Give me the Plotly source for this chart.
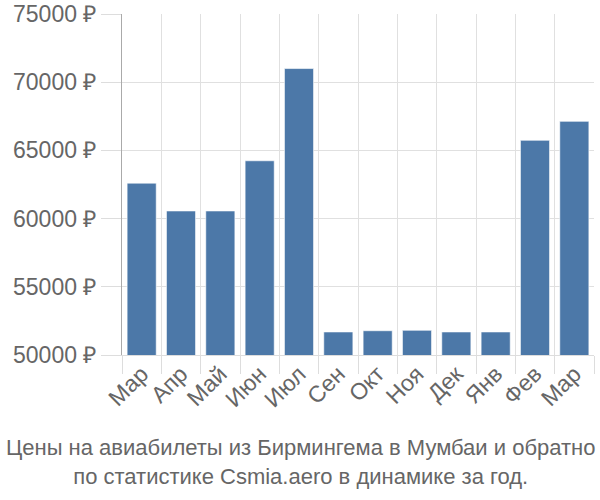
import plotly.graph_objects as go

months = ["Мар", "Апр", "Май", "Июн", "Июл", "Сен", "Окт", "Ноя", "Дек", "Янв", "Фев", "Мар"]
prices = [62600, 60560, 60560, 64240, 71000, 51690, 51780, 51810, 51690, 51690, 65740, 67130]
y_ticks = [50000, 55000, 60000, 65000, 70000, 75000]
y_labels = [f"{v} ₽" for v in y_ticks]
title_lines = ["Цены на авиабилеты из Бирмингема в Мумбаи и обратно",
               "по статистике Csmia.aero в динамике за год."]

x_idx = list(range(len(months)))

fig = go.Figure()
fig.add_trace(go.Bar(
    x=x_idx, y=prices,
    marker=dict(color="#4c78a8", line=dict(color="rgba(255,255,255,0.6)", width=1)),
    width=0.74,
))
fig.add_trace(go.Bar(x=x_idx, y=[None] * len(months), xaxis="x2", showlegend=False))

fig.update_layout(
    width=600, height=500,
    margin=dict(l=122, r=6, t=14, b=145),
    paper_bgcolor="white", plot_bgcolor="white",
    font=dict(family="Liberation Sans, Arial, sans-serif", color="#666666"),
    showlegend=False,
    xaxis=dict(
        range=[-0.5, len(months) - 0.5], automargin=False,
        tickmode="array", tickvals=[i - 0.5 for i in x_idx] + [len(months) - 0.5],
        ticktext=[""] * (len(months) + 1),
        showgrid=True, gridcolor="#e0e0e0", gridwidth=1,
        ticks="outside", ticklen=18, tickcolor="#dddddd",
        showline=True, linecolor="#dddddd", linewidth=1,
        zeroline=False,
    ),
    xaxis2=dict(
        overlaying="x", matches="x", anchor="y", automargin=False,
        tickmode="array", tickvals=x_idx, ticktext=months,
        tickangle=-45, tickfont=dict(size=23, color="#666666"),
        showgrid=False, ticks="", showline=False, side="bottom",
    ),
    yaxis=dict(
        range=[50000, 75000], automargin=False,
        tickmode="array", tickvals=y_ticks, ticktext=y_labels,
        tickfont=dict(size=23, color="#666666"),
        showgrid=True, gridcolor="#e0e0e0", gridwidth=1,
        ticks="outside", ticklen=20, tickcolor="#dddddd",
        showline=True, linecolor="#aaaaaa", linewidth=1,
        zeroline=False,
    ),
)
fig.add_annotation(
    text="<br>".join(title_lines), xref="paper", yref="paper",
    x=(300 - 122) / 472, y=-(462 - 355) / 341,
    xanchor="center", yanchor="middle", showarrow=False,
    font=dict(size=22, color="#666666"), align="center",
)

fig.write_html("out.html")
